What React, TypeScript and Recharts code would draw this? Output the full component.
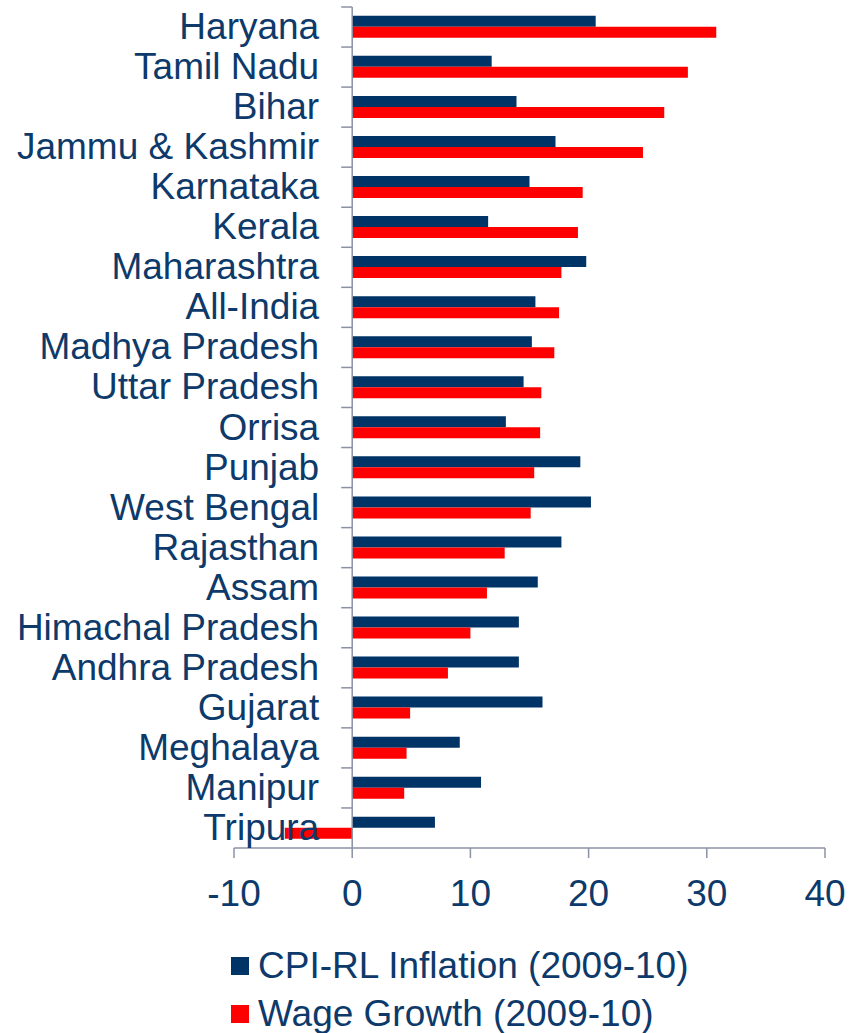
import { Bar, BarChart, Legend, ReferenceLine, XAxis, YAxis } from 'recharts'

const states = [
  'Haryana', 'Tamil Nadu', 'Bihar', 'Jammu & Kashmir', 'Karnataka', 'Kerala', 'Maharashtra',
  'All-India', 'Madhya Pradesh', 'Uttar Pradesh', 'Orrisa', 'Punjab', 'West Bengal', 'Rajasthan',
  'Assam', 'Himachal Pradesh', 'Andhra Pradesh', 'Gujarat', 'Meghalaya', 'Manipur', 'Tripura',
]
const cpiInflation = [
  20.6, 11.8, 13.9, 17.2, 15.0, 11.5, 19.8, 15.5, 15.2, 14.5, 13.0,
  19.3, 20.2, 17.7, 15.7, 14.1, 14.1, 16.1, 9.1, 10.9, 7.0,
]
const wageGrowth = [
  30.8, 28.4, 26.4, 24.6, 19.5, 19.1, 17.7, 17.5, 17.1, 16.0, 15.9,
  15.4, 15.1, 12.9, 11.4, 10.0, 8.1, 4.9, 4.6, 4.4, -5.7,
]
const xTicks = [-10, 0, 10, 20, 30, 40]

const data = states.map((name, i) => ({ name, cpi: cpiInflation[i], wage: wageGrowth[i] }))

const W = 863
const H = 1033
const M = { top: 7, right: 38, bottom: 125, left: 0 }
const Y_W = 234
const X_H = 60
const PLOT_W = W - M.left - M.right - Y_W
const PLOT_H = H - M.top - M.bottom - X_H
const BAND = PLOT_H / states.length
const ZERO_X = M.left + Y_W + (PLOT_W * (0 - xTicks[0])) / (xTicks[xTicks.length - 1] - xTicks[0])

const NAVY = '#0d3a6a'
const AXIS = '#8b91a5'
const FONT = '"Liberation Sans", Arial, sans-serif'
const FS = 37

function StateTick({ y, payload }: any) {
  return (
    <g>
      <line x1={ZERO_X - 11} x2={ZERO_X} y1={y - BAND / 2} y2={y - BAND / 2} stroke={AXIS} strokeWidth={1.5} />
      <text x={ZERO_X - 33} y={y} dy={12} textAnchor="end" fill={NAVY} fontSize={FS} fontFamily={FONT}>
        {payload.value}
      </text>
    </g>
  )
}

function LegendBox({ payload }: any) {
  return (
    <div style={{ fontFamily: FONT, fontSize: FS, color: NAVY }}>
      {(payload || []).map((p: any) => (
        <div key={p.value} style={{ display: 'flex', alignItems: 'center', height: 48 }}>
          <span style={{ width: 18, height: 18, background: p.color, marginRight: 9, display: 'inline-block' }} />
          <span>{p.value}</span>
        </div>
      ))}
    </div>
  )
}

export default function App() {
  return (
    <div style={{ position: 'absolute', left: 0, top: 0, width: W, height: H, background: '#fff' }}>
      <BarChart
        width={W}
        height={H}
        data={data}
        layout="vertical"
        margin={M}
        barCategoryGap="22%"
        barGap={0}
      >
        <XAxis
          type="number"
          domain={[xTicks[0], xTicks[xTicks.length - 1]]}
          ticks={xTicks}
          interval={0}
          height={X_H}
          tickSize={10}
          tickMargin={22}
          stroke={AXIS}
          strokeWidth={1.5}
          tick={{ fill: NAVY, fontSize: FS, fontFamily: FONT }}
        />
        <Bar dataKey="cpi" name="CPI-RL Inflation (2009-10)" fill="#003366" isAnimationActive={false} />
        <Bar dataKey="wage" name="Wage Growth (2009-10)" fill="#ff0000" isAnimationActive={false} />
        <ReferenceLine x={0} stroke={AXIS} strokeWidth={1.5} />
        <YAxis
          type="category"
          dataKey="name"
          width={Y_W}
          axisLine={false}
          tickLine={false}
          interval={0}
          tick={<StateTick />}
        />
        <Legend
          layout="vertical"
          align="center"
          verticalAlign="middle"
          content={<LegendBox />}
          wrapperStyle={{ left: 231, top: 942, width: 'auto' }}
        />
      </BarChart>
    </div>
  )
}
